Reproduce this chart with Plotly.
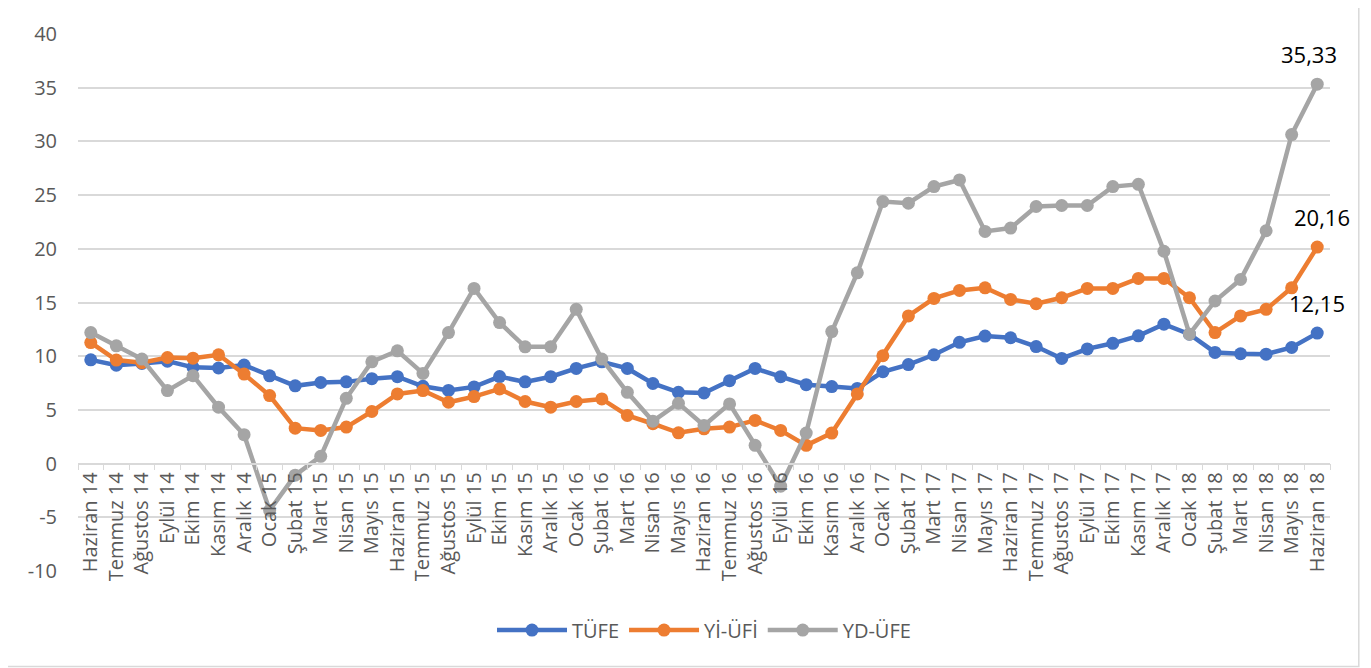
import plotly.graph_objects as go

months = ["Haziran", "Temmuz", "Ağustos", "Eylül", "Ekim", "Kasım", "Aralık",
          "Ocak", "Şubat", "Mart", "Nisan", "Mayıs"]

# Haziran 14 .. Haziran 18 (49 months)
categories = []
for yr in range(14, 18):
    for i, m in enumerate(months):
        categories.append(f"{m} {yr if i < 7 else yr + 1}")
categories.append("Haziran 18")

tufe = [9.66, 9.16, 9.32, 9.54, 8.96, 8.9, 9.17, 8.17, 7.24, 7.55, 7.61, 7.91, 8.09,
        7.2, 6.81, 7.14, 8.1, 7.61, 8.09, 8.86, 9.48, 8.86, 7.46, 6.64, 6.58, 7.72,
        8.86, 8.09, 7.35, 7.17, 7.0, 8.55, 9.22, 10.13, 11.29, 11.87, 11.72, 10.9,
        9.79, 10.68, 11.2, 11.9, 12.98, 12.05, 10.35, 10.23, 10.19, 10.81, 12.15]

yi_ufe = [11.27, 9.64, 9.4, 9.88, 9.82, 10.13, 8.34, 6.33, 3.3, 3.09, 3.4, 4.85, 6.49,
          6.8, 5.71, 6.24, 6.95, 5.78, 5.25, 5.78, 6.02, 4.48, 3.71, 2.87, 3.24, 3.4,
          4.02, 3.09, 1.7, 2.84, 6.49, 10.04, 13.75, 15.38, 16.12, 16.37, 15.29, 14.89,
          15.44, 16.31, 16.31, 17.24, 17.24, 15.44, 12.2, 13.75, 14.36, 16.37, 20.16]

yd_ufe = [12.2, 10.97, 9.73, 6.8, 8.19, 5.25, 2.69, -4.36, -1.08, 0.68, 6.08, 9.48,
          10.5, 8.4, 12.2, 16.31, 13.13, 10.87, 10.87, 14.36, 9.73, 6.64, 3.95, 5.62,
          3.55, 5.56, 1.7, -2.1, 2.84, 12.29, 17.76, 24.4, 24.25, 25.79, 26.41, 21.62,
          21.93, 23.94, 24.03, 24.03, 25.79, 26.0, 19.77, 12.05, 15.14, 17.14, 21.68,
          30.64, 35.33]

y_ticks = [-10, -5, 0, 5, 10, 15, 20, 25, 30, 35, 40]

series = [("TÜFE", tufe, "#4472C4", 0), ("Yİ-ÜFİ", yi_ufe, "#ED7D31", 5), ("YD-ÜFE", yd_ufe, "#A5A5A5", -8)]

FONT = "Open Sans"

fig = go.Figure()
for name, vals, color, dx in series:
    fig.add_trace(go.Scatter(
        x=categories, y=vals, name=name, mode="lines+markers",
        line=dict(color=color, width=4.5),
        marker=dict(color=color, size=13),
    ))
    # value label on last point
    fig.add_annotation(x=categories[-1], y=vals[-1], text=f"{vals[-1]:.2f}".replace(".", ","),
                       showarrow=False, yshift=30, xshift=dx,
                       font=dict(size=22, color="#000000", family=FONT))

fig.update_layout(
    width=1363, height=660,
    margin=dict(l=70, r=41, t=24, b=97),
    paper_bgcolor="white", plot_bgcolor="white",
    font=dict(family=FONT, color="#595959"),
    showlegend=True,
    legend=dict(orientation="h", x=0.5, xanchor="center", y=-0.11, yanchor="middle",
                font=dict(size=20, color="#595959"), itemwidth=70),
    xaxis=dict(type="category", anchor="free", position=0.2, showgrid=False,
               showline=True, linecolor="#d9d9d9", linewidth=1.5,
               ticks="outside", tickson="boundaries", ticklen=6, tickcolor="#d9d9d9",
               tickangle=-90, tickfont=dict(size=20, color="#595959"),
               range=[-0.5, 48.5]),
    yaxis=dict(range=[-10, 40], tickvals=y_ticks, ticktext=[str(v) for v in y_ticks],
               showgrid=True, gridcolor="#d9d9d9", gridwidth=1.5,
               zeroline=False, showline=False, tickfont=dict(size=20, color="#595959"),
               ticklabelstandoff=20),
    shapes=[dict(type="rect", xref="paper", yref="paper",
                 x0=-0.0567, x1=1.023, y0=-0.178, y1=1.054,
                 line=dict(color="#d9d9d9", width=1.5))],
)

fig.write_html("out.html")
